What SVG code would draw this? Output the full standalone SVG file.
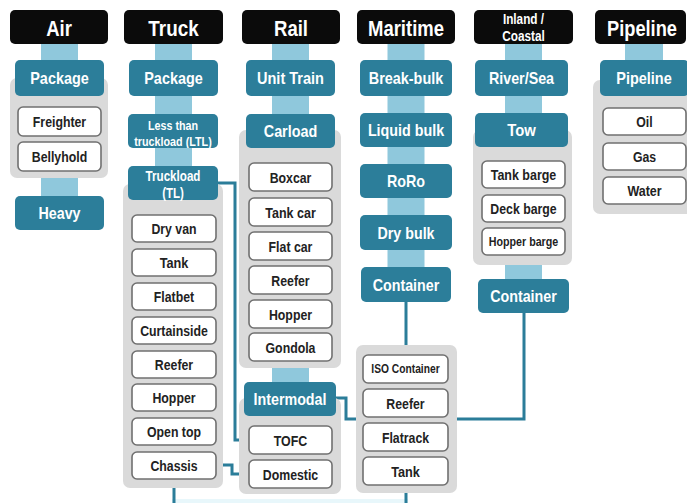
<svg xmlns="http://www.w3.org/2000/svg" width="687" height="503" viewBox="0 0 687 503">
<style>
.hdr{fill:#0b0b0b}
.bar{fill:#8fc8dc}
.grp{fill:#dadada}
.teal{fill:#2c7e9a}
.wb{fill:#ffffff;stroke:#707070;stroke-width:1.6}
text{font-family:"Liberation Sans",Arial,sans-serif;font-weight:bold;text-anchor:middle;dominant-baseline:central}
.ht{fill:#ffffff;font-size:22px}
.hs{fill:#ffffff;font-size:14px}
.tt{fill:#ffffff;font-size:17px}
.ts{fill:#ffffff;font-size:13px}
.tm{fill:#ffffff;font-size:14px}
.wt{fill:#222222;font-size:15px}
.ws{fill:#222222;font-size:12.5px}
.conn{fill:none;stroke:#2b7d99;stroke-width:3}
</style>
<rect x="0" y="0" width="687" height="503" fill="#ffffff"/>
<rect x="172" y="499" width="236" height="4" fill="#e8f7fb"/>

<g id="connectors">
<path class="conn" d="M218,183 H235 V440 H249"/>
<path class="conn" d="M216,465 H232 V474 H249"/>
<path class="conn" d="M336,398 H346 V419 H356"/>
<path class="conn" d="M524,313 V419 H457"/>
<path class="conn" d="M406,302 V345"/>
<path class="conn" d="M174,478 V503"/>
<path class="conn" d="M406,493 V503"/>
</g>

<g id="air">
<rect class="hdr" x="10" y="10" width="98" height="34" rx="5"/>
<text class="ht" x="59" y="28" textLength="25.7" lengthAdjust="spacingAndGlyphs">Air</text>
<rect class="bar" x="41" y="44" width="37" height="17"/>
<rect class="grp" x="10" y="78" width="98" height="100" rx="7"/>
<rect class="teal" x="15" y="60" width="89" height="36" rx="5"/>
<text class="tt" x="59.5" y="78.5" textLength="58.5" lengthAdjust="spacingAndGlyphs">Package</text>
<rect class="wb" x="18" y="107" width="83" height="29" rx="5"/>
<text class="wt" x="59.5" y="121.5" textLength="53.3" lengthAdjust="spacingAndGlyphs">Freighter</text>
<rect class="wb" x="18" y="142" width="83" height="29" rx="5"/>
<text class="wt" x="59.5" y="156.5" textLength="55.4" lengthAdjust="spacingAndGlyphs">Bellyhold</text>
<rect class="bar" x="41" y="178" width="37" height="19"/>
<rect class="teal" x="15" y="196" width="89" height="34" rx="5"/>
<text class="tt" x="59.5" y="213.5" textLength="42.1" lengthAdjust="spacingAndGlyphs">Heavy</text>
</g>

<g id="truck">
<rect class="hdr" x="124" y="10" width="99" height="34" rx="5"/>
<text class="ht" x="173.5" y="28" textLength="50.3" lengthAdjust="spacingAndGlyphs">Truck</text>
<rect class="bar" x="155" y="44" width="37" height="17"/>
<rect class="teal" x="129" y="60" width="89" height="36" rx="5"/>
<text class="tt" x="173.5" y="78.5" textLength="58.5" lengthAdjust="spacingAndGlyphs">Package</text>
<rect class="bar" x="155" y="96" width="37" height="19"/>
<rect class="teal" x="128" y="114" width="90" height="34" rx="5"/>
<text class="ts" x="173" y="125" textLength="50" lengthAdjust="spacingAndGlyphs">Less than</text>
<text class="ts" x="173" y="141" textLength="77.5" lengthAdjust="spacingAndGlyphs">truckload (LTL)</text>
<rect class="bar" x="155" y="148" width="37" height="19"/>
<rect class="grp" x="123" y="184" width="100" height="304" rx="7"/>
<rect class="teal" x="128" y="166" width="90" height="34" rx="5"/>
<text class="tm" x="173" y="176" textLength="54.9" lengthAdjust="spacingAndGlyphs">Truckload</text>
<text class="tm" x="173" y="193" textLength="21.7" lengthAdjust="spacingAndGlyphs">(TL)</text>
<rect class="wb" x="132" y="215" width="84" height="27" rx="5"/>
<text class="wt" x="174" y="228.5" textLength="45.1" lengthAdjust="spacingAndGlyphs">Dry van</text>
<rect class="wb" x="132" y="249" width="84" height="27" rx="5"/>
<text class="wt" x="174" y="262.5" textLength="28.7" lengthAdjust="spacingAndGlyphs">Tank</text>
<rect class="wb" x="132" y="283" width="84" height="27" rx="5"/>
<text class="wt" x="174" y="296.5" textLength="40.3" lengthAdjust="spacingAndGlyphs">Flatbet</text>
<rect class="wb" x="132" y="317" width="84" height="27" rx="5"/>
<text class="wt" x="174" y="330.5" textLength="67.7" lengthAdjust="spacingAndGlyphs">Curtainside</text>
<rect class="wb" x="132" y="351" width="84" height="27" rx="5"/>
<text class="wt" x="174" y="364.5" textLength="38.3" lengthAdjust="spacingAndGlyphs">Reefer</text>
<rect class="wb" x="132" y="384" width="84" height="27" rx="5"/>
<text class="wt" x="174" y="397.5" textLength="43.1" lengthAdjust="spacingAndGlyphs">Hopper</text>
<rect class="wb" x="132" y="418" width="84" height="27" rx="5"/>
<text class="wt" x="174" y="431.5" textLength="54" lengthAdjust="spacingAndGlyphs">Open top</text>
<rect class="wb" x="132" y="452" width="84" height="27" rx="5"/>
<text class="wt" x="174" y="465.5" textLength="47.2" lengthAdjust="spacingAndGlyphs">Chassis</text>
</g>

<g id="rail">
<rect class="hdr" x="242" y="10" width="98" height="34" rx="5"/>
<text class="ht" x="291" y="28" textLength="34" lengthAdjust="spacingAndGlyphs">Rail</text>
<rect class="bar" x="272" y="44" width="37" height="17"/>
<rect class="teal" x="246" y="60" width="89" height="36" rx="5"/>
<text class="tt" x="290.5" y="78.5" textLength="67" lengthAdjust="spacingAndGlyphs">Unit Train</text>
<rect class="bar" x="272" y="96" width="37" height="19"/>
<rect class="grp" x="239" y="130" width="102" height="238" rx="7"/>
<rect class="teal" x="246" y="114" width="89" height="34" rx="5"/>
<text class="tt" x="290.5" y="131.5" textLength="53.5" lengthAdjust="spacingAndGlyphs">Carload</text>
<rect class="wb" x="249" y="163" width="83" height="28" rx="5"/>
<text class="wt" x="290.5" y="177" textLength="41.7" lengthAdjust="spacingAndGlyphs">Boxcar</text>
<rect class="wb" x="249" y="198" width="83" height="28" rx="5"/>
<text class="wt" x="290.5" y="212" textLength="50.6" lengthAdjust="spacingAndGlyphs">Tank car</text>
<rect class="wb" x="249" y="232" width="83" height="28" rx="5"/>
<text class="wt" x="290.5" y="246" textLength="43.8" lengthAdjust="spacingAndGlyphs">Flat car</text>
<rect class="wb" x="249" y="266" width="83" height="28" rx="5"/>
<text class="wt" x="290.5" y="280" textLength="38.3" lengthAdjust="spacingAndGlyphs">Reefer</text>
<rect class="wb" x="249" y="300" width="83" height="28" rx="5"/>
<text class="wt" x="290.5" y="314" textLength="43.1" lengthAdjust="spacingAndGlyphs">Hopper</text>
<rect class="wb" x="249" y="333" width="83" height="28" rx="5"/>
<text class="wt" x="290.5" y="347" textLength="49.9" lengthAdjust="spacingAndGlyphs">Gondola</text>
<rect class="bar" x="272" y="368" width="37" height="16"/>
<rect class="grp" x="239" y="398" width="102" height="96" rx="7"/>
<rect class="teal" x="244" y="382" width="92" height="34" rx="5"/>
<text class="tt" x="290" y="399.5" textLength="73" lengthAdjust="spacingAndGlyphs">Intermodal</text>
<rect class="wb" x="249" y="426" width="83" height="28" rx="5"/>
<text class="wt" x="290.5" y="440" textLength="33.5" lengthAdjust="spacingAndGlyphs">TOFC</text>
<rect class="wb" x="249" y="460" width="83" height="28" rx="5"/>
<text class="wt" x="290.5" y="474" textLength="55.4" lengthAdjust="spacingAndGlyphs">Domestic</text>
</g>

<g id="maritime">
<rect class="hdr" x="357" y="10" width="98" height="34" rx="5"/>
<text class="ht" x="406" y="28" textLength="76" lengthAdjust="spacingAndGlyphs">Maritime</text>
<rect class="bar" x="387.5" y="44" width="37" height="17"/>
<rect class="teal" x="360" y="60" width="92" height="36" rx="5"/>
<text class="tt" x="406" y="78.5" textLength="74.5" lengthAdjust="spacingAndGlyphs">Break-bulk</text>
<rect class="bar" x="387.5" y="96" width="37" height="18"/>
<rect class="teal" x="360" y="113" width="92" height="34" rx="5"/>
<text class="tt" x="406" y="130.5" textLength="76.2" lengthAdjust="spacingAndGlyphs">Liquid bulk</text>
<rect class="bar" x="387.5" y="147" width="37" height="18"/>
<rect class="teal" x="360" y="164" width="92" height="34" rx="5"/>
<text class="tt" x="406" y="181.5" textLength="38.1" lengthAdjust="spacingAndGlyphs">RoRo</text>
<rect class="bar" x="387.5" y="198" width="37" height="18"/>
<rect class="teal" x="360" y="215" width="92" height="35" rx="5"/>
<text class="tt" x="406" y="233" textLength="57.1" lengthAdjust="spacingAndGlyphs">Dry bulk</text>
<rect class="bar" x="387.5" y="250" width="37" height="18"/>
<rect class="teal" x="361" y="267" width="90" height="35" rx="5"/>
<text class="tt" x="406" y="285" textLength="66.6" lengthAdjust="spacingAndGlyphs">Container</text>
<rect class="grp" x="356" y="345" width="101" height="148" rx="7"/>
<rect class="wb" x="363" y="355" width="85" height="28" rx="5"/>
<text class="ws" x="405.5" y="369" textLength="68.3" lengthAdjust="spacingAndGlyphs">ISO Container</text>
<rect class="wb" x="363" y="389" width="85" height="28" rx="5"/>
<text class="wt" x="405.5" y="403" textLength="38.3" lengthAdjust="spacingAndGlyphs">Reefer</text>
<rect class="wb" x="363" y="423" width="85" height="28" rx="5"/>
<text class="wt" x="405.5" y="437" textLength="47.2" lengthAdjust="spacingAndGlyphs">Flatrack</text>
<rect class="wb" x="363" y="457" width="85" height="28" rx="5"/>
<text class="wt" x="405.5" y="471" textLength="28.7" lengthAdjust="spacingAndGlyphs">Tank</text>
</g>

<g id="inland">
<rect class="hdr" x="474" y="10" width="99" height="34" rx="5"/>
<text class="hs" x="523.5" y="19" textLength="41.2" lengthAdjust="spacingAndGlyphs">Inland /</text>
<text class="hs" x="523.5" y="36" textLength="42.5" lengthAdjust="spacingAndGlyphs">Coastal</text>
<rect class="bar" x="505" y="44" width="37" height="17"/>
<rect class="teal" x="475" y="60" width="93" height="36" rx="5"/>
<text class="tt" x="521.5" y="78.5" textLength="65.1" lengthAdjust="spacingAndGlyphs">River/Sea</text>
<rect class="bar" x="505" y="96" width="37" height="18"/>
<rect class="grp" x="473" y="130" width="99" height="135" rx="7"/>
<rect class="teal" x="475" y="113" width="93" height="34" rx="5"/>
<text class="tt" x="521.5" y="130.5" textLength="28.6" lengthAdjust="spacingAndGlyphs">Tow</text>
<rect class="wb" x="482" y="161" width="83" height="27" rx="5"/>
<text class="wt" x="523.5" y="174.5" textLength="65.6" lengthAdjust="spacingAndGlyphs">Tank barge</text>
<rect class="wb" x="482" y="195" width="83" height="27" rx="5"/>
<text class="wt" x="523.5" y="208.5" textLength="66.3" lengthAdjust="spacingAndGlyphs">Deck barge</text>
<rect class="wb" x="482" y="228" width="83" height="27" rx="5"/>
<text class="ws" x="523.5" y="241.5" textLength="69.5" lengthAdjust="spacingAndGlyphs">Hopper barge</text>
<rect class="bar" x="505" y="265" width="37" height="15"/>
<rect class="teal" x="478" y="279" width="91" height="34" rx="5"/>
<text class="tt" x="523.5" y="296.5" textLength="66.6" lengthAdjust="spacingAndGlyphs">Container</text>
</g>

<g id="pipeline">
<rect class="hdr" x="595" y="10" width="91" height="34" rx="5"/>
<text class="ht" x="642" y="28" textLength="70" lengthAdjust="spacingAndGlyphs">Pipeline</text>
<rect class="bar" x="625" y="44" width="38" height="17"/>
<rect class="grp" x="593" y="80" width="102" height="134" rx="7"/>
<rect class="teal" x="600" y="60" width="89" height="36" rx="5"/>
<text class="tt" x="644" y="78.5" textLength="55.5" lengthAdjust="spacingAndGlyphs">Pipeline</text>
<rect class="wb" x="603" y="108" width="83" height="27" rx="5"/>
<text class="wt" x="644.5" y="121.5" textLength="16.4" lengthAdjust="spacingAndGlyphs">Oil</text>
<rect class="wb" x="603" y="143" width="83" height="27" rx="5"/>
<text class="wt" x="644.5" y="156.5" textLength="23.2" lengthAdjust="spacingAndGlyphs">Gas</text>
<rect class="wb" x="603" y="177" width="83" height="27" rx="5"/>
<text class="wt" x="644.5" y="190.5" textLength="34.2" lengthAdjust="spacingAndGlyphs">Water</text>
</g>
</svg>
